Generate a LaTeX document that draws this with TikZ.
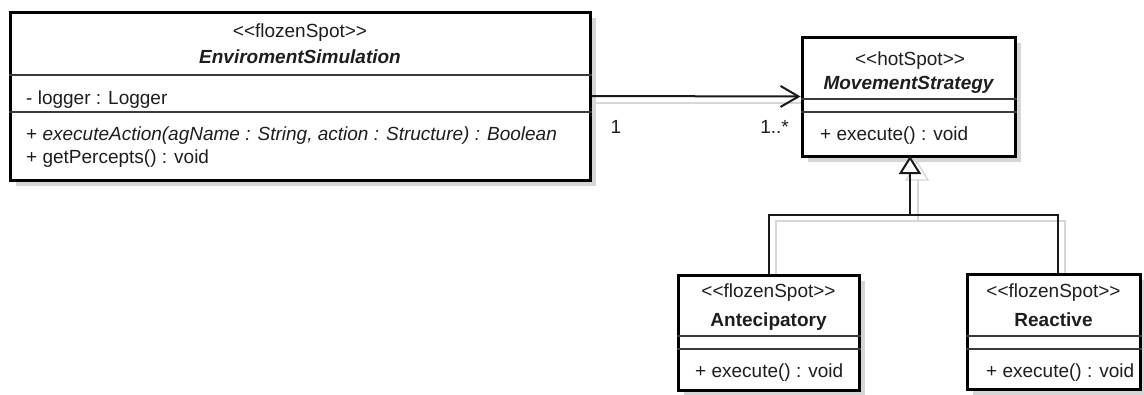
\documentclass[tikz,border=0pt]{standalone}
\usepackage{fontspec}
\setmainfont{Liberation Sans}
\usetikzlibrary{arrows.meta,shadows}
\definecolor{txt}{HTML}{1E1E1E}
\definecolor{divc}{HTML}{3A3A3A}
\definecolor{shd}{HTML}{D6D6D6}
\newcommand\stereo[1]{<\kern0pt<#1>\kern0pt>}
\begin{document}
\begin{tikzpicture}[x=1pt,y=-1pt,
  every node/.style={font=\fontsize{19}{23}\selectfont, text=txt, inner sep=0pt},
  cls/.style={draw=black, line width=3pt, fill=white,
     drop shadow={shadow xshift=6pt, shadow yshift=-6pt, fill=shd, opacity=1}},
  divider/.style={draw=divc, line width=1.6pt},
  conn/.style={draw=black!90, line width=2pt},
  connshadow/.style={draw=shd, line width=1.6pt},
  lbl/.style={anchor=base},
  mem/.style={anchor=base west}]
\useasboundingbox (0,0) rectangle (1144,394);

% ---- connector shadows (drawn first)
\draw[connshadow] (596,103) -- (810,103);
\draw[connshadow] (776,275) |- (1065,221) -- (1065,274);
\draw[connshadow] (918,221) -- (918,180);
\draw[draw=shd, line width=1.4pt] (906,180) -- (928,180) -- (917,162) -- cycle;

% ---- EnviromentSimulation
\node[cls, minimum width=580pt, minimum height=168pt] (env) at (300,96) {};
\draw[divider] (env.west |- 0,75) -- (env.east |- 0,75);
\draw[divider] (env.west |- 0,112) -- (env.east |- 0,112);
\node[lbl] (envst) at (300,37) {\stereo{flozenSpot}};
\node[lbl] (envnm) at (300,63) {\bfseries\itshape EnviromentSimulation};
\node[mem] (envat) at (26,104) {- logger : Logger};
\node[mem] (envop1) at (26,140) {+ \itshape executeAction(agName : String, action : Structure) : Boolean};
\node[mem] (envop2) at (26,163) {+ getPercepts() : void};

% ---- MovementStrategy
\node[cls, minimum width=213pt, minimum height=119pt] (ms) at (908.5,96.5) {};
\draw[divider] (ms.west |- 0,99) -- (ms.east |- 0,99);
\draw[divider] (ms.west |- 0,112) -- (ms.east |- 0,112);
\node[lbl] (msst) at (910,65) {\stereo{hotSpot}};
\node[lbl] (msnm) at (908.5,89) {\bfseries\itshape MovementStrategy};
\node[mem] (msop) at (820,140) {+ execute() : void};

% ---- Antecipatory
\node[cls, minimum width=181pt, minimum height=115pt] (ant) at (768.5,332.5) {};
\draw[divider] (ant.west |- 0,336) -- (ant.east |- 0,336);
\draw[divider] (ant.west |- 0,349) -- (ant.east |- 0,349);
\node[lbl] (antst) at (768.5,297) {\stereo{flozenSpot}};
\node[lbl] (antnm) at (768.5,326) {\bfseries Antecipatory};
\node[mem] (antop) at (695,377) {+ execute() : void};

% ---- Reactive
\node[cls, minimum width=173pt, minimum height=115pt] (rea) at (1053.5,331.5) {};
\draw[divider] (rea.west |- 0,336) -- (rea.east |- 0,336);
\draw[divider] (rea.west |- 0,349) -- (rea.east |- 0,349);
\node[lbl] (reast) at (1053.5,297) {\stereo{flozenSpot}};
\node[lbl] (reanm) at (1053.5,326) {\bfseries Reactive};
\node[mem] (reaop) at (986,377) {+ execute() : void};

% ---- association
\draw[conn, -{Straight Barb[length=18pt,width=21pt,line width=2pt]}] (env.east) -- (ms.west);
\node[lbl] (m1) at (616,133) {1};
\node[anchor=base east] (m2) at (789,133) {1..*};

% ---- generalization
\coordinate (j) at (910,215);
\draw[conn] (ant.north) |- (j);
\draw[conn] (j) -| ([xshift=4.5pt]rea.north);
\draw[conn, -{Triangle[open, length=18pt, width=22pt, line width=2pt, fill=white]}] (j) -- (910,156);
\end{tikzpicture}
\end{document}
